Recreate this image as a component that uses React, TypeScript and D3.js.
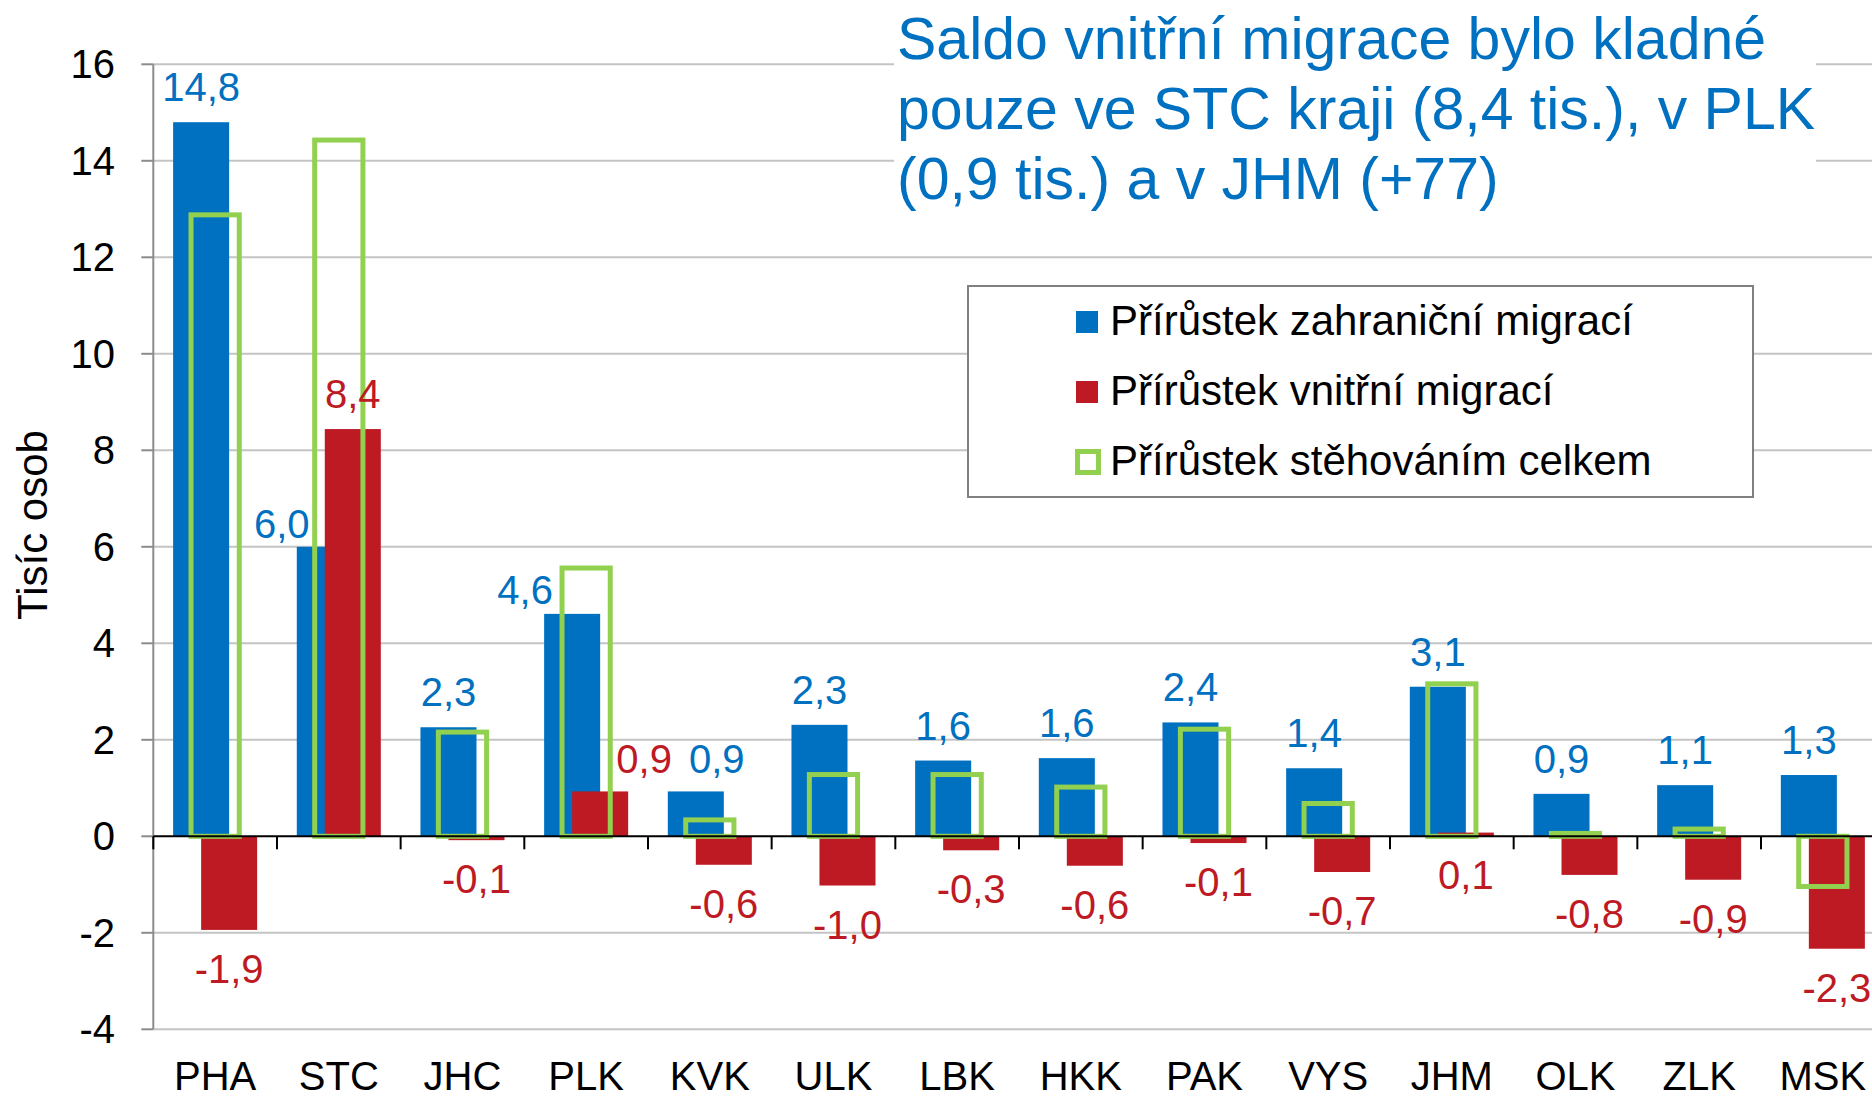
import React from 'react';
import * as d3 from 'd3';

// kraje
const categories = ['PHA', 'STC', 'JHC', 'PLK', 'KVK', 'ULK', 'LBK', 'HKK', 'PAK', 'VYS', 'JHM', 'OLK', 'ZLK', 'MSK'];
// tis. osob
const foreign = [14.8, 6.0, 2.26, 4.61, 0.93, 2.31, 1.57, 1.62, 2.36, 1.41, 3.1, 0.88, 1.06, 1.27];
const internal = [-1.94, 8.44, -0.08, 0.93, -0.59, -1.02, -0.29, -0.61, -0.14, -0.74, 0.077, -0.8, -0.9, -2.33];
const total = [12.88, 14.43, 2.16, 5.56, 0.34, 1.28, 1.28, 1.02, 2.22, 0.68, 3.16, 0.06, 0.15, -1.04];
const yTicks = [-4, -2, 0, 2, 4, 6, 8, 10, 12, 14, 16];

const seriesNames = ['Přírůstek zahraniční migrací', 'Přírůstek vnitřní migrací', 'Přírůstek stěhováním celkem'];
const titleLines = ['Saldo vnitřní migrace bylo kladné', 'pouze ve STC kraji (8,4 tis.), v PLK', '(0,9 tis.) a v JHM (+77)'];

const BLUE = '#0070C0';
const RED = '#BE1A24';
const GREEN = '#92D050';
const FONT = '"Liberation Sans", Arial, sans-serif';

// ručně posunuté popisky (jako v originále)
const blueNudge: { [k: string]: [number, number] } = { STC: [-43, 12], PLK: [-47, 11], KVK: [21, 3] };
const redNudge: { [k: string]: [number, number] } = { PLK: [44, 3] };

const fmt = (v: number) => v.toFixed(1).replace('.', ',');

const App: React.FC = () => {
  const width = 1872;
  const height = 1098;
  const left = 153.3;
  const step = 123.67;

  const x = d3.scaleBand<string>().domain(categories).range([left, left + step * categories.length]);
  const y = d3.scaleLinear().domain([-4, 16]).range([1029.3, 64.3]);
  const bw = x.bandwidth();
  const barW = bw * 0.453;
  const boxW = bw * 0.39;
  const y0 = y(0);

  const cx = (c: string) => (x(c) as number) + bw / 2;

  return (
    <svg width={width} height={height} style={{ position: 'absolute', left: 0, top: 0, background: '#fff' }} fontFamily={FONT}>
      {/* mřížka */}
      {yTicks.map((t) => (
        <g key={t}>
          {t !== 0 && <line x1={left} x2={width} y1={y(t)} y2={y(t)} stroke="#c4c4c4" strokeWidth={2} />}
          <line x1={left - 12} x2={left} y1={y(t)} y2={y(t)} stroke="#8c8c8c" strokeWidth={2} />
          <text x={115} y={y(t)} dy="0.35em" textAnchor="end" fontSize={40} fill="#000">
            {t}
          </text>
        </g>
      ))}

      {/* titulek */}
      <rect x={894} y={0} width={922} height={250} fill="#fff" />
      <text fill={BLUE} fontSize={59}>
        {titleLines.map((l, i) => (
          <tspan key={i} x={897} y={59 + i * 70}>
            {l}
          </tspan>
        ))}
      </text>

      {/* legenda */}
      <rect x={968} y={286} width={785} height={211} fill="#fff" stroke="#808080" strokeWidth={2} />
      {seriesNames.map((s, i) => (
        <g key={s} transform={`translate(1076, ${311 + i * 70})`}>
          {i < 2 ? (
            <rect width={22} height={22} fill={i === 0 ? BLUE : RED} />
          ) : (
            <rect x={1.5} y={0.5} width={21} height={21} fill="#fff" stroke={GREEN} strokeWidth={5} />
          )}
          <text x={34} y={24} fontSize={42} fill="#000">
            {s}
          </text>
        </g>
      ))}

      {/* sloupce */}
      {categories.map((c, i) => {
        const v = foreign[i];
        return <rect key={'b' + c} x={cx(c) - barW / 4 - barW / 2} y={y(v)} width={barW} height={y0 - y(v)} fill={BLUE} />;
      })}
      {categories.map((c, i) => {
        const v = internal[i];
        return (
          <rect
            key={'r' + c}
            x={cx(c) + barW / 4 - barW / 2}
            y={Math.min(y(v), y0)}
            width={barW}
            height={Math.abs(y0 - y(v))}
            fill={RED}
          />
        );
      })}
      {categories.map((c, i) => {
        const v = total[i];
        return (
          <rect
            key={'g' + c}
            x={cx(c) - boxW / 2}
            y={Math.min(y(v), y0)}
            width={boxW}
            height={Math.max(Math.abs(y0 - y(v)), 0.5)}
            fill="none"
            stroke={GREEN}
            strokeWidth={5}
          />
        );
      })}

      {/* osy */}
      <line x1={left} x2={left} y1={y(16)} y2={y(-4)} stroke="#8c8c8c" strokeWidth={2} />
      <line x1={left} x2={width} y1={y0} y2={y0} stroke="#000" strokeWidth={2} />
      {categories.map((c) => (
        <line key={'t' + c} x1={x(c) as number} x2={x(c) as number} y1={y0} y2={y0 + 13} stroke="#000" strokeWidth={2} />
      ))}
      {categories.map((c) => (
        <text key={'l' + c} x={cx(c)} y={1090} textAnchor="middle" fontSize={40} fill="#000">
          {c}
        </text>
      ))}
      <text transform="translate(47, 525) rotate(-90)" textAnchor="middle" fontSize={42} fill="#000">
        Tisíc osob
      </text>

      {/* popisky */}
      {categories.map((c, i) => {
        const v = foreign[i];
        const [dx, dy] = blueNudge[c] || [0, 0];
        return (
          <text key={'bl' + c} x={cx(c) - barW / 4 + dx} y={y(v) - 21 + dy} textAnchor="middle" fontSize={40} fill={BLUE}>
            {fmt(v)}
          </text>
        );
      })}
      {categories.map((c, i) => {
        const v = internal[i];
        const [dx, dy] = redNudge[c] || [0, 0];
        const above = v > 0.5;
        const ty = above ? y(v) - 21 : Math.max(y(v), y0) + 53;
        return (
          <text key={'rl' + c} x={cx(c) + barW / 4 + dx} y={ty + dy} textAnchor="middle" fontSize={40} fill={RED}>
            {fmt(v)}
          </text>
        );
      })}
    </svg>
  );
};

export default App;
